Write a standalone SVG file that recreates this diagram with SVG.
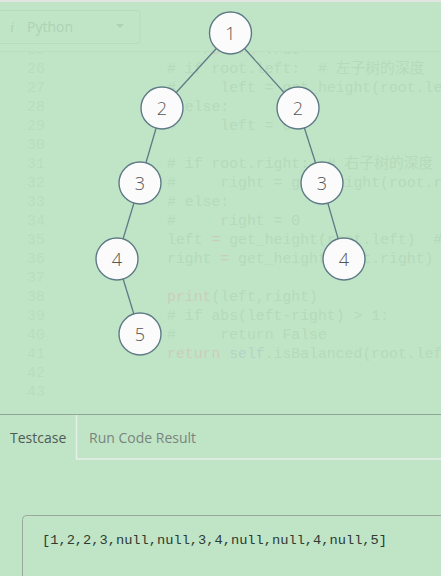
<svg xmlns="http://www.w3.org/2000/svg" width="441" height="576" viewBox="0 0 441 576">
<defs>
<style>
.bg{fill:#C0E5C6}
.ln{font-family:"Liberation Mono","DejaVu Sans Mono",monospace;font-size:14.8px;fill:#B8DDBE}
.code{font-family:"Liberation Mono","Noto Sans CJK SC",monospace;font-size:14.8px;fill:#B5D9BB;white-space:pre}
.kw{fill:#CBCDBB}
.sf{fill:#B2D4C8}
.node circle{fill:#FAFBFA;stroke:#5F7A87;stroke-width:1.4}
.node text{font-family:"Open Sans","Noto Sans",sans-serif;font-weight:300;font-size:18px;fill:#555;text-anchor:middle}
.edges line{stroke:#5F7A87;stroke-width:1.3}
.ui{font-family:"Open Sans","Noto Sans",sans-serif;font-size:14px}
</style>
<clipPath id="ed"><rect x="0" y="52" width="441" height="362"/></clipPath>
</defs>
<rect class="bg" x="0" y="0" width="441" height="576"/>
<rect x="0" y="0" width="441" height="2" fill="#E2E4E2"/>
<g id="select">
<rect x="-4" y="10.5" width="144" height="33" rx="3" fill="none" stroke="#B7DBBD"/>
<text x="10" y="32" font-style="italic" font-family="Liberation Serif,serif" fill="#AED1B4" font-size="15">i</text>
<text x="27" y="32" class="ui" fill="#AED1B4">Python</text>
<path d="M116 24 h8 l-4 4 z" fill="#AED1B4"/>
</g>
<line x1="0" y1="51.5" x2="441" y2="51.5" stroke="#BADFC0"/>
<g clip-path="url(#ed)">
<g class="ln">
<text x="27" y="54">25</text>
<text x="27" y="73">26</text>
<text x="27" y="92">27</text>
<text x="27" y="111">28</text>
<text x="27" y="130">29</text>
<text x="27" y="149">30</text>
<text x="27" y="168">31</text>
<text x="27" y="187">32</text>
<text x="27" y="206">33</text>
<text x="27" y="225">34</text>
<text x="27" y="244">35</text>
<text x="27" y="263">36</text>
<text x="27" y="282">37</text>
<text x="27" y="301">38</text>
<text x="27" y="320">39</text>
<text x="27" y="339">40</text>
<text x="27" y="358">41</text>
<text x="27" y="377">42</text>
<text x="27" y="396">43</text>
</g>
<g class="code">
<text x="167" y="54" xml:space="preserve">    <tspan class="kw">return</tspan> True</text>
<text x="167" y="73" xml:space="preserve"># if root.left:  # 左子树的深度</text>
<text x="167" y="92" xml:space="preserve">#     left = get_height(root.left)</text>
<text x="167" y="111" xml:space="preserve"># else:</text>
<text x="167" y="130" xml:space="preserve">#     left = 0</text>
<text x="167" y="168" xml:space="preserve"># if root.right:  # 右子树的深度</text>
<text x="167" y="187" xml:space="preserve">#     right = get_height(root.right)</text>
<text x="167" y="206" xml:space="preserve"># else:</text>
<text x="167" y="225" xml:space="preserve">#     right = 0</text>
<text x="167" y="244" xml:space="preserve">left <tspan class="kw">=</tspan> get_height(root.left)  #</text>
<text x="167" y="263" xml:space="preserve">right <tspan class="kw">=</tspan> get_height(root.right)</text>
<text x="167" y="301" xml:space="preserve"><tspan class="kw">print</tspan>(left,right)</text>
<text x="167" y="320" xml:space="preserve"># if abs(left-right) &gt; 1:</text>
<text x="167" y="339" xml:space="preserve">#     return False</text>
<text x="167" y="358" xml:space="preserve"><tspan class="kw">return</tspan> <tspan class="sf">self</tspan>.isBalanced(root.left</text>
</g>
</g>
<g class="edges" id="connectors">
<line x1="230.5" y1="33" x2="162" y2="108"/>
<line x1="230.5" y1="33" x2="298" y2="108"/>
<line x1="162" y1="108" x2="140" y2="183"/>
<line x1="298" y1="108" x2="322" y2="183"/>
<line x1="140" y1="183" x2="117" y2="259"/>
<line x1="322" y1="183" x2="344" y2="259"/>
<line x1="117" y1="259" x2="140" y2="334"/>
</g>
<g class="node" id="n1"><circle cx="230.5" cy="33" r="21"/><text x="230.5" y="39.5">1</text></g>
<g class="node" id="n2l"><circle cx="162" cy="108" r="21"/><text x="162" y="114.5">2</text></g>
<g class="node" id="n2r"><circle cx="298" cy="108" r="21"/><text x="298" y="114.5">2</text></g>
<g class="node" id="n3l"><circle cx="140" cy="183" r="21"/><text x="140" y="189.5">3</text></g>
<g class="node" id="n3r"><circle cx="322" cy="183" r="21"/><text x="322" y="189.5">3</text></g>
<g class="node" id="n4l"><circle cx="117" cy="259" r="21"/><text x="117" y="265.5">4</text></g>
<g class="node" id="n4r"><circle cx="344" cy="259" r="21"/><text x="344" y="265.5">4</text></g>
<g class="node" id="n5"><circle cx="140" cy="334" r="21"/><text x="140" y="340.5">5</text></g>
<g id="panel">
<line x1="0" y1="414.5" x2="441" y2="414.5" stroke="#8FA595"/>
<line x1="76.5" y1="415" x2="76.5" y2="459" stroke="#E6EFE7" stroke-width="1.5"/>
<line x1="76" y1="459" x2="441" y2="459" stroke="#E6EFE7" stroke-width="1.5"/>
<text x="10" y="443" class="ui" fill="#4F5A55">Testcase</text>
<text x="89" y="443" class="ui" fill="#7A847E">Run Code Result</text>
<rect x="22.5" y="515.5" width="440" height="80" rx="4" fill="none" stroke="#9AA79D"/>
<text x="42" y="544" font-family="Liberation Mono,monospace" font-size="13.7" fill="#2F3A33">[1,2,2,3,null,null,3,4,null,null,4,null,5]</text>
</g>
</svg>
